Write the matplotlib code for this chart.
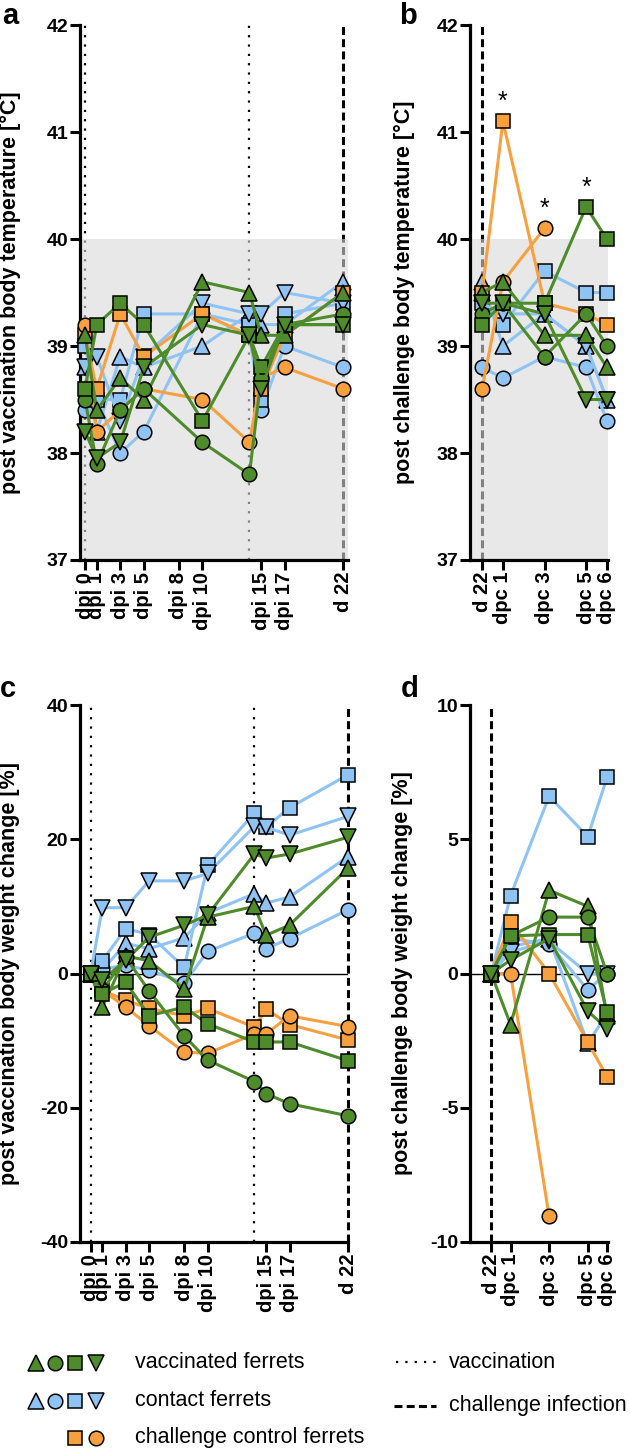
import matplotlib
matplotlib.use('Agg')
import matplotlib.pyplot as plt
import numpy as np

plt.rcParams['font.family'] = ['Liberation Sans', 'DejaVu Sans']

green = '#4e8b2a'
blue = '#8fc3f4'
orange = '#f8a040'

nan = np.nan

# a: body temperature post vaccination [°C]
a_days = [0, 1, 3, 5, 10, 14, 15, 17, 22]
a_vac_up = [39.1, 38.4, 38.7, 38.5, 39.6, 39.5, 39.1, 39.1, 39.5]
a_vac_circ = [38.5, 37.9, 38.4, 38.6, 38.1, 37.8, 38.7, 39.2, 39.3]
a_vac_sq = [38.6, 39.2, 39.4, 39.2, 38.3, 39.1, 38.8, 39.2, 39.2]
a_vac_down = [38.2, 37.95, 38.1, 38.8, 39.2, 39.1, 38.6, 39.2, 39.2]
a_con_up = [38.8, 38.2, 38.9, 38.8, 39.0, 39.3, 39.2, 39.2, 39.6]
a_con_circ = [38.4, 38.5, 38.0, 38.2, 39.3, 39.1, 38.4, 39.0, 38.8]
a_con_sq = [39.0, 38.5, 38.5, 39.3, 39.3, 39.2, 38.5, 39.3, 39.4]
a_con_down = [38.8, 38.9, 38.3, 38.9, 39.4, 39.3, 39.3, 39.5, 39.4]
a_ctl_sq = [39.1, 38.6, 39.3, 38.9, 39.3, 39.1, 38.6, 39.1, 39.5]
a_ctl_circ = [39.2, 38.2, 38.4, 38.6, 38.5, 38.1, 38.7, 38.8, 38.6]

# b: body temperature post challenge [°C]
b_days = [0, 1, 3, 5, 6]
b_vac_up = [39.5, 39.6, 39.1, 39.1, 38.8]
b_vac_circ = [39.3, 39.4, 38.9, 39.3, 39.0]
b_vac_sq = [39.2, 39.4, 39.4, 40.3, 40.0]
b_vac_down = [39.4, 39.4, 39.3, 38.5, 38.5]
b_con_up = [39.6, 39.0, 39.3, 39.0, 38.5]
b_con_circ = [38.8, 38.7, 38.9, 38.8, 38.3]
b_con_sq = [39.4, 39.2, 39.7, 39.5, 39.5]
b_con_down = [39.4, 39.3, 39.3, 39.0, 38.5]
b_ctl_sq = [39.5, 41.1, 39.4, 39.3, 39.2]
b_ctl_circ = [38.6, 39.6, 40.1, nan, nan]
b_star_days = [1, 3, 5]
b_star_vals = [41.1, 40.1, 40.3]

# c: body weight change post vaccination [%]
c_days = [0, 1, 3, 5, 8, 10, 14, 15, 17, 22]
c_vac_up = [0, -5.0, 2.6, 1.9, -2.3, 8.4, 10.0, 5.7, 7.2, 15.7]
c_vac_circ = [0, -2.5, 2.4, -2.6, -9.3, -12.9, -16.1, -17.9, -19.4, -21.2]
c_vac_sq = [0, -3.0, -1.3, -6.3, -5.0, -7.5, -10.2, -10.2, -10.2, -13.0]
c_vac_down = [0, -1.0, 2.0, 5.4, 7.2, 8.7, 17.8, 17.2, 17.8, 20.3]
c_con_up = [0, 0.5, 4.5, 3.7, 5.3, 9.0, 11.9, 10.5, 11.4, 17.4]
c_con_circ = [0, 0.7, 1.2, 0.5, -1.4, 3.3, 6.0, 3.7, 5.2, 9.5]
c_con_sq = [0, 1.9, 6.7, 5.8, 0.9, 16.1, 23.9, 21.8, 24.7, 29.6]
c_con_down = [0, 9.8, 9.8, 13.8, 13.8, 14.9, 21.9, 21.8, 20.6, 23.4]
c_ctl_sq = [0, -2.5, -4.0, -5.2, -6.3, -5.2, -8.0, -5.3, -7.6, -9.9]
c_ctl_circ = [0, -2.5, -5.0, -7.8, -11.7, -11.9, -9.0, -9.0, -6.3, -7.9]

# d: body weight change post challenge [%]
d_days = [0, 1, 3, 5, 6]
d_vac_up = [0, -1.9, 3.1, 2.5, -1.6]
d_vac_circ = [0, 1.4, 2.1, 2.1, 0]
d_vac_sq = [0, 1.4, 1.45, 1.45, -1.45]
d_vac_down = [0, 0.5, 1.3, -1.4, -2.05]
d_con_up = [0, 1.0, 1.3, -2.6, -1.5]
d_con_circ = [0, 1.3, 1.1, -0.6, 0]
d_con_sq = [0, 2.9, 6.6, 5.1, 7.3]
d_con_down = [0, 0.8, 1.2, 0, 0]
d_ctl_sq = [0, 1.9, 0, -2.55, -3.85]
d_ctl_circ = [0, 0, -9.05, nan, nan]

vac_ticks = [0, 1, 3, 5, 8, 10, 15, 17, 22]
vac_labels = ['dpi 0', 'dpi 1', 'dpi 3', 'dpi 5', 'dpi 8', 'dpi 10', 'dpi 15', 'dpi 17', 'd 22']
chal_ticks = [0, 1, 3, 5, 6]
chal_labels = ['d 22', 'dpc 1', 'dpc 3', 'dpc 5', 'dpc 6']
vaccination_days = [0, 14]

msize = {'^': 11.5, 'o': 10.5, 's': 10.5, 'v': 11.5}


def draw(ax, days, blues, oranges, greens):
    groups = [(blues, blue, ['^', 'o', 's', 'v']),
              (oranges, orange, ['s', 'o']),
              (greens, green, ['^', 'o', 's', 'v'])]
    z = 4
    for vals_list, col, markers in groups:
        for vals, m in zip(vals_list, markers):
            ax.plot(days, vals, color=col, lw=2.2, marker=m, ms=msize[m],
                    mfc=col, mec='black', mew=1.1, clip_on=False, zorder=z)
            z += 0.1


def style(ax, ylabel, yticks, xticks, xlabels, ylab_x):
    ax.spines['top'].set_visible(False)
    ax.spines['right'].set_visible(False)
    ax.spines['left'].set_linewidth(2.3)
    ax.spines['bottom'].set_linewidth(2.3)
    ax.set_yticks(yticks)
    ax.set_yticklabels([str(t) for t in yticks], fontweight='bold', fontsize=14)
    ax.set_xticks(xticks)
    ax.set_xticklabels(xlabels, rotation=90, fontweight='bold', fontsize=14.5)
    ax.tick_params(width=2.2, length=7, pad=1.5)
    ax.set_ylabel(ylabel, fontweight='bold', fontsize=15.5)
    ax.yaxis.set_label_coords(ylab_x, 0.5)


dotted = (0, (1, 3.2))
dashed = (0, (2.6, 1.4))

fig = plt.figure(figsize=(6.3, 14.49), dpi=100)
W, H = 630, 1449

ax_a = fig.add_axes([80 / W, 1 - 560 / H, 268 / W, 535 / H])
ax_b = fig.add_axes([470 / W, 1 - 560 / H, 138 / W, 535 / H])
ax_c = fig.add_axes([80 / W, 1 - 1242 / H, 268 / W, 537 / H])
ax_d = fig.add_axes([470 / W, 1 - 1242 / H, 138 / W, 537 / H])

# a
ax_a.set_xlim(-0.43, 22.4)
ax_a.set_ylim(37, 42)
for d in vaccination_days:
    ax_a.axvline(d, color='black', ls=dotted, lw=1.6, zorder=1)
ax_a.axvline(22, color='black', ls=dashed, lw=2.2, zorder=1)
ax_a.axhspan(37, 40, color=(0.85, 0.85, 0.85), alpha=0.6, lw=0, zorder=2)
draw(ax_a, a_days,
     [a_con_up, a_con_circ, a_con_sq, a_con_down],
     [a_ctl_sq, a_ctl_circ],
     [a_vac_up, a_vac_circ, a_vac_sq, a_vac_down])
style(ax_a, 'post vaccination body temperature [°C]', [37, 38, 39, 40, 41, 42],
      vac_ticks, vac_labels, -0.22)

# b
ax_b.set_xlim(-0.58, 6.05)
ax_b.set_ylim(37, 42)
ax_b.axvline(0, color='black', ls=dashed, lw=2.2, zorder=1)
ax_b.axhspan(37, 40, color=(0.85, 0.85, 0.85), alpha=0.6, lw=0, zorder=2)
draw(ax_b, b_days,
     [b_con_up, b_con_circ, b_con_sq, b_con_down],
     [b_ctl_sq, b_ctl_circ],
     [b_vac_up, b_vac_circ, b_vac_sq, b_vac_down])
for x, v in zip(b_star_days, b_star_vals):
    ax_b.text(x, v + 0.07, '*', ha='center', va='bottom', fontsize=18, zorder=6)
style(ax_b, 'post challenge body temperature [°C]', [37, 38, 39, 40, 41, 42],
      chal_ticks, chal_labels, -0.40)

# c
ax_c.set_xlim(-0.91, 22.0)
ax_c.set_ylim(-40, 40)
for d in vaccination_days:
    ax_c.axvline(d, color='black', ls=dotted, lw=1.6, zorder=1)
ax_c.axvline(22, color='black', ls=dashed, lw=2.2, zorder=1, clip_on=False)
ax_c.axhline(0, color='black', lw=1, zorder=1)
draw(ax_c, c_days,
     [c_con_up, c_con_circ, c_con_sq, c_con_down],
     [c_ctl_sq, c_ctl_circ],
     [c_vac_up, c_vac_circ, c_vac_sq, c_vac_down])
style(ax_c, 'post vaccination body weight change [%]', [-40, -20, 0, 20, 40],
      vac_ticks, vac_labels, -0.225)

# d
ax_d.set_xlim(-1.1, 6.05)
ax_d.set_ylim(-10, 10)
ax_d.axvline(0, color='black', ls=dashed, lw=2.2, zorder=1)
ax_d.axhline(0, color='black', lw=1, zorder=1)
draw(ax_d, d_days,
     [d_con_up, d_con_circ, d_con_sq, d_con_down],
     [d_ctl_sq, d_ctl_circ],
     [d_vac_up, d_vac_circ, d_vac_sq, d_vac_down])
style(ax_d, 'post challenge body weight change [%]', [-10, -5, 0, 5, 10],
      chal_ticks, chal_labels, -0.41)

# panel letters (baseline positions in pixels)
for lx, ly, letter in [(2, 24, 'a'), (399, 24, 'b'), (0, 697, 'c'), (401, 697, 'd')]:
    fig.text(lx / W, 1 - ly / H, letter, fontsize=21, fontweight='bold', va='baseline')

# legend drawn in pixel space
leg = fig.add_axes([0, 0, 1, 1])
leg.set_xlim(0, W)
leg.set_ylim(H, 0)
leg.axis('off')
rows = [(1363, green, ['^', 'o', 's', 'v'], [36, 55, 75, 96], 'vaccinated ferrets'),
        (1401, blue, ['^', 'o', 's', 'v'], [36, 55, 75, 96], 'contact ferrets'),
        (1438, orange, ['s', 'o'], [75, 96], 'challenge control ferrets')]
for y, col, markers, xs, label in rows:
    for m, x in zip(markers, xs):
        leg.plot([x], [y], marker=m, ms=msize[m], mfc=col, mec='black', mew=1.1, ls='none')
    leg.text(135, y, label, fontsize=15.5, va='center', ha='left')
leg.plot([396, 438], [1362, 1362], color='black', ls=dotted, lw=1.6)
leg.text(449, 1362, 'vaccination', fontsize=15.5, va='center', ha='left')
leg.plot([394, 436], [1406, 1406], color='black', ls=dashed, lw=2.2)
leg.text(449, 1406, 'challenge infection', fontsize=15.5, va='center', ha='left')

fig.savefig('out.png', dpi=100)
